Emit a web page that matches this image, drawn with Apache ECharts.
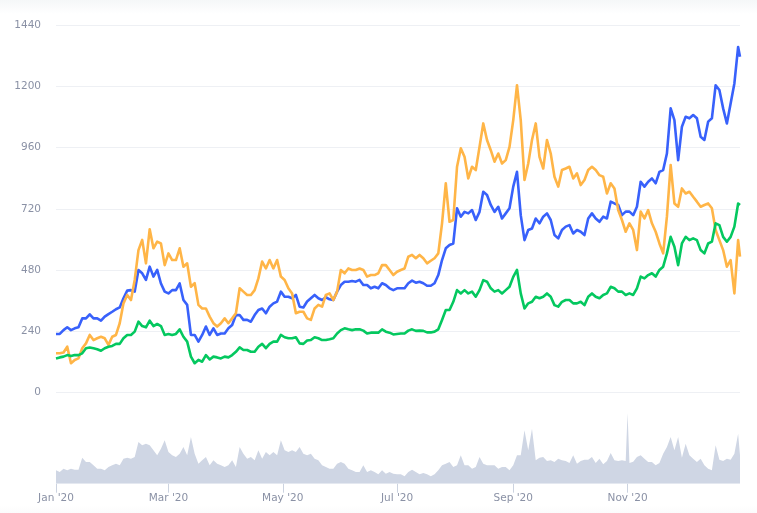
<!DOCTYPE html>
<html>
<head>
<meta charset="utf-8">
<style>
  html, body { margin: 0; padding: 0; background: #fff; }
  #chart { width: 757px; height: 513px; }
</style>
<script src="https://cdn.jsdelivr.net/npm/echarts@6/dist/echarts.min.js"></script>
</head>
<body>
<div id="chart"></div>
<script>
// values read every 2 days from 1 Jan 2020, last one is 31 Dec
const blueValues = [
  229,229,244,255,244,251,255,290,290,306,290,290,281,297,307,316,326,333,369,399,401,395,480,467,441,493,454,480,427,395,
  388,401,401,427,362,343,225,225,199,225,258,225,251,225,231,231,251,
  264,303,303,284,284,277,303,323,329,310,336,349,356,395,375,375,369,382,336,333,356,369,382,369,362,373,365,362,395,421,
  434,434,437,434,441,421,421,408,414,408,428,421,408,401,408,408,408,428,438,430,434,428,418,418,428,460,519,
  565,578,584,722,689,708,702,715,676,708,787,774,735,708,728,682,702,722,807,865,695,597,637,643,682,663,689,702,676,617,
  604,637,650,656,623,637,630,617,682,702,682,669,689,682,
  748,741,735,695,709,709,695,728,826,807,826,839,820,865,872,937,1114,1068,911,1042,1081,1075,1088,1075,1003,990,1062,1075,1205,1186,
  1114,1055,1133,1212,1355,1317
];
const orangeValues = [
  153,153,156,179,114,127,133,173,192,225,205,212,218,212,186,218,225,271,349,382,362,441,558,598,506,640,565,591,584,499,
  545,519,519,565,493,506,414,428,343,329,329,297,271,258,271,290,271,
  290,310,408,395,382,382,401,447,513,486,519,486,519,454,441,408,388,310,316,316,290,284,329,343,336,382,388,362,395,480,
  467,486,480,480,486,480,454,460,460,467,499,499,480,460,473,480,486,532,539,526,539,526,506,516,526,545,663,
  820,669,676,885,957,924,839,885,872,963,1055,990,950,905,937,898,911,963,1068,1205,1068,833,898,990,1055,924,878,990,937,846,
  807,872,878,885,839,859,813,833,872,885,872,852,846,780,
  820,800,715,676,630,663,637,558,709,682,715,663,630,584,545,689,892,741,728,800,780,787,767,748,728,735,741,722,637,597,
  558,493,519,388,597,532
];
const greenValues = [
  133,137,140,146,142,146,146,153,173,176,173,169,163,173,179,182,190,190,212,225,225,238,277,260,255,281,260,268,260,225,
  229,225,229,247,218,199,140,114,127,120,146,129,140,137,133,140,137,
  146,159,176,166,166,159,159,179,190,173,190,199,199,225,216,212,212,216,192,190,203,205,216,212,205,205,208,212,231,244,
  251,247,244,247,247,242,231,234,234,234,247,238,234,227,229,231,231,242,247,241,242,241,235,235,238,247,284,
  323,323,355,401,388,401,388,395,375,401,440,434,408,395,401,388,401,414,453,480,388,329,349,355,375,369,375,388,375,342,
  336,355,362,362,349,349,355,342,375,388,375,369,382,388,
  414,408,395,395,382,388,382,408,454,447,460,467,454,480,493,545,610,571,499,584,610,597,604,597,558,545,584,591,663,656,
  610,591,610,650,741,735
];
const volumeValues = [
  40,35,45,40,45,42,42,78,65,65,55,45,45,40,50,55,60,55,75,78,75,80,125,115,120,115,100,85,105,130,
  95,85,80,90,110,85,140,90,60,70,80,55,70,60,55,50,55,70,50,110,90,75,80,70,100,75,95,85,95,85,
  130,100,95,100,95,110,90,85,90,75,70,55,50,45,45,60,65,60,45,40,35,35,55,35,40,35,28,
  40,30,35,30,28,28,22,35,42,35,28,32,28,22,28,40,55,60,65,50,55,85,55,55,45,50,80,60,55,55,
  55,45,50,50,40,55,85,85,160,100,165,70,78,80,68,70,65,75,70,68,62,85,60,68,72,72,80,62,75,58,
  68,92,70,68,70,68,212,62,66,80,85,75,65,65,55,62,90,110,140,100,140,78,120,85,75,65,75,55,45,40,
  115,72,68,75,72,90,150,85
];
const xTickDays = [0, 60, 121, 182, 244, 305];

const priceDays = [];
for (let d = 0; d <= 364; d += 2) priceDays.push(d);
priceDays.push(365);
// volume has one more point for the spike on 1 Nov
const volumeDays = priceDays.concat(305).sort((a, b) => a - b);

const zip = (days, vals) => days.map((d, i) => [d, vals[i]]);
const months = ['Jan','Feb','Mar','Apr','May','Jun','Jul','Aug','Sep','Oct','Nov','Dec'];

const labelFont = { color: '#8a91a5', fontFamily: 'DejaVu Sans', fontSize: 10.5 };

function priceLine(name, values, color) {
  return {
    name: name,
    type: 'line',
    data: zip(priceDays, values),
    showSymbol: false,
    lineStyle: { color: color, width: 2.6, join: 'round' },
    itemStyle: { color: color },
    xAxisIndex: 0,
    yAxisIndex: 0
  };
}

const chart = echarts.init(document.getElementById('chart'), null, { renderer: 'canvas' });
chart.setOption({
  animation: false,
  backgroundColor: '#fff',
  graphic: [
    {
      type: 'rect', silent: true, z: -1,
      shape: { x: 0, y: 0, width: 757, height: 14 },
      style: { fill: new echarts.graphic.LinearGradient(0, 0, 0, 1, [
        { offset: 0, color: '#f5f7f8' }, { offset: 1, color: '#ffffff' }
      ]) }
    },
    {
      type: 'rect', silent: true, z: -1,
      shape: { x: 0, y: 505, width: 757, height: 8 },
      style: { fill: new echarts.graphic.LinearGradient(0, 0, 0, 1, [
        { offset: 0, color: '#ffffff' }, { offset: 1, color: '#fbfbfc' }
      ]) }
    }
  ],
  grid: [
    { left: 56, right: 17, top: 25.3, height: 367 },
    { left: 56, right: 17, top: 400, height: 83.7 }
  ],
  xAxis: [
    {
      type: 'value', gridIndex: 0, min: 0, max: 365,
      axisLine: { show: false }, axisTick: { show: false },
      axisLabel: { show: false }, splitLine: { show: false }
    },
    {
      type: 'value', gridIndex: 1, min: 0, max: 365,
      axisLine: { show: false },
      axisTick: {
        show: true,
        length: 9,
        lineStyle: { color: '#ccd3e0' },
        customValues: xTickDays
      },
      axisLabel: {
        ...labelFont,
        margin: 9,
        customValues: xTickDays,
        formatter: v => months[new Date(2020, 0, 1 + v).getMonth()] + " '20"
      },
      splitLine: { show: false }
    }
  ],
  yAxis: [
    {
      type: 'value', gridIndex: 0, min: 0, max: 1440, interval: 240,
      axisLine: { show: false }, axisTick: { show: false },
      axisLabel: { ...labelFont, margin: 15, padding: [4, 0, 0, 0], formatter: v => String(v) },
      splitLine: { lineStyle: { color: '#eef0f4', width: 1 } }
    },
    {
      type: 'value', gridIndex: 1, min: 0, max: 251,
      axisLine: { show: false }, axisTick: { show: false },
      axisLabel: { show: false }, splitLine: { show: false }
    }
  ],
  series: [
    {
      name: 'Volume',
      type: 'line',
      data: zip(volumeDays, volumeValues),
      showSymbol: false,
      lineStyle: { width: 0 },
      areaStyle: { color: '#cfd6e4', opacity: 1 },
      xAxisIndex: 1,
      yAxisIndex: 1
    },
    priceLine('Blue', blueValues, '#3861fb'),
    priceLine('Orange', orangeValues, '#ffb547'),
    priceLine('Green', greenValues, '#04c85f')
  ]
});
</script>
</body>
</html>
